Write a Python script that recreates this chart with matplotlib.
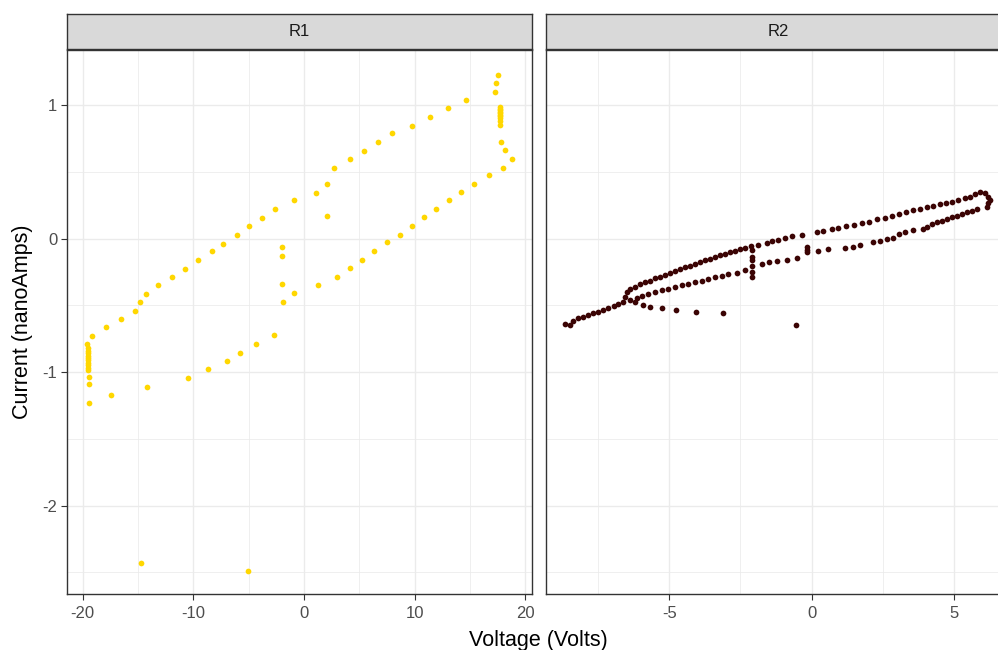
import matplotlib
matplotlib.use("Agg")
import matplotlib.pyplot as plt
import numpy as np

plt.rcParams['font.family'] = ['Liberation Sans', 'DejaVu Sans']
plt.rcParams['axes.unicode_minus'] = False

# ---------------- data ----------------
panels = ["R1", "R2"]

r1_volts = [
    -19.58, -19.49, -19.49, -19.49, -19.49, -19.49, -19.49, -19.49, -19.49, -19.49, -19.49, -19.40, -19.40,
    -19.19, -17.90, -16.51, -15.31, -14.82, -14.31, -13.23, -11.94, -10.73, -9.56, -8.35, -7.30,
    -6.06, -4.98, -3.80, -2.60, -0.91, 1.07, 2.07, 2.67, 4.17, 5.44, 6.64, 7.94, 9.72, 11.40,
    13.00, 14.59, 17.27, 17.36, 17.48,
    17.66, 17.66, 17.66, 17.66, 17.66, 17.66, 17.66, 17.66, 17.66, 17.66, 17.75, 18.15, 18.78, 17.97,
    16.71, 15.38, 14.20, 13.09, 11.91, 10.83, 9.72, 8.63, 7.46, 6.34, 5.26, 4.17, 2.94, 1.29,
    -0.91, -1.90, -1.99, -1.99, -1.99, 2.07,
    -2.69, -4.38, -5.79, -6.97, -8.65, -10.46, -14.22, -17.41,
    -14.73, -5.07, -19.40,
]
r1_amps = [
    -0.787, -0.822, -0.840, -0.858, -0.876, -0.894, -0.912, -0.930, -0.948, -0.966, -0.984, -1.037, -1.087,
    -0.729, -0.664, -0.605, -0.540, -0.475, -0.417, -0.350, -0.285, -0.227, -0.160, -0.095, -0.037,
    0.030, 0.095, 0.153, 0.220, 0.288, 0.345, 0.410, 0.532, 0.600, 0.657, 0.722, 0.790, 0.847, 0.912,
    0.980, 1.037, 1.102, 1.169, 1.227,
    0.985, 0.974, 0.963, 0.952, 0.941, 0.930, 0.918, 0.907, 0.885, 0.855, 0.722, 0.665, 0.600, 0.532,
    0.475, 0.410, 0.353, 0.288, 0.220, 0.162, 0.095, 0.030, -0.027, -0.095, -0.160, -0.217, -0.285, -0.350,
    -0.407, -0.475, -0.342, -0.127, -0.062, 0.170,
    -0.722, -0.787, -0.855, -0.920, -0.980, -1.044, -1.112, -1.170,
    -2.431, -2.489, -1.234,
]

r2_volts = [
    -8.66, -8.49, -8.37, -8.20, -8.02, -7.84, -7.67, -7.49, -7.32, -7.14, -6.96, -6.79, -6.61, -6.55,
    -6.49, -6.38, -6.20, -6.03, -5.85, -5.68, -5.50, -5.33, -5.15, -4.98, -4.80, -4.62, -4.45, -4.27,
    -4.10, -3.92, -3.74, -3.57, -3.39, -3.22, -3.04, -2.87, -2.69, -2.52, -2.34, -2.14, -1.87, -1.58,
    -1.40, -1.17, -0.93, -0.68, -0.35, 0.18, 0.41, 0.70, 0.94, 1.21, 1.49, 1.76, 2.03, 2.31, 2.58,
    2.81, 3.08, 3.32, 3.58, 3.81, 4.04, 4.28, 4.51, 4.72, 4.92, 5.16, 5.39, 5.57, 5.74, 5.91, 6.09,
    6.21, 6.27, 6.21, 6.15,
    5.80, 5.62, 5.45, 5.27, 5.10, 4.92, 4.75, 4.57, 4.39, 4.22, 4.04, 3.93, 3.58, 3.28, 3.08, 2.85,
    2.64, 2.40, 2.17, 1.70, 1.47, 1.17, 0.59, 0.24, -0.17, -0.17, -0.17, -0.52, -0.88, -1.20, -1.49,
    -1.75, -2.08, -2.08, -2.08, -2.08, -2.08, -2.08, -2.34, -2.63, -2.93, -3.16, -3.39, -3.63, -3.86,
    -4.10, -4.33, -4.56, -4.80, -5.03, -5.27, -5.50, -5.74, -5.97, -6.14, -6.20, -6.38,
    -5.91, -5.68, -5.27, -4.78, -4.07, -3.12, -0.56,
]
r2_amps = [
    -0.637, -0.647, -0.614, -0.597, -0.584, -0.572, -0.559, -0.547, -0.534, -0.522, -0.504, -0.490, -0.472, -0.434,
    -0.397, -0.380, -0.360, -0.342, -0.327, -0.315, -0.297, -0.285, -0.272, -0.255, -0.240, -0.227, -0.215, -0.202,
    -0.190, -0.175, -0.162, -0.150, -0.137, -0.125, -0.115, -0.102, -0.092, -0.080, -0.067, -0.057, -0.045, -0.030,
    -0.020, -0.007, 0.008, 0.020, 0.028, 0.048, 0.058, 0.073, 0.083, 0.093, 0.103, 0.115, 0.128, 0.145, 0.158,
    0.168, 0.185, 0.198, 0.213, 0.220, 0.235, 0.245, 0.258, 0.270, 0.278, 0.290, 0.303, 0.315, 0.333, 0.348, 0.340,
    0.315, 0.290, 0.265, 0.240,
    0.220, 0.208, 0.198, 0.185, 0.173, 0.160, 0.148, 0.135, 0.125, 0.110, 0.090, 0.073, 0.065, 0.053, 0.033, 0.005,
    -0.005, -0.015, -0.025, -0.047, -0.060, -0.072, -0.080, -0.090, -0.060, -0.085, -0.097, -0.147, -0.160, -0.167, -0.177,
    -0.190, -0.205, -0.160, -0.135, -0.085, -0.247, -0.285, -0.237, -0.255, -0.267, -0.280, -0.290, -0.302, -0.315,
    -0.327, -0.337, -0.350, -0.362, -0.375, -0.387, -0.402, -0.414, -0.427, -0.447, -0.472, -0.460,
    -0.497, -0.510, -0.522, -0.534, -0.549, -0.557, -0.647,
]

colors = {"R1": "#FFD700", "R2": "#3B0404"}

r1_xticks = [-20, -10, 0, 10, 20]
r2_xticks = [-5, 0, 5]
y_ticks = [1, 0, -1, -2]

# ---------------- layout (pixels) ----------------
W, H = 998, 650
fig = plt.figure(figsize=(W / 100, H / 100), dpi=100)

def px_axes(l, t, r, b):
    return fig.add_axes([l / W, 1 - b / H, (r - l) / W, (b - t) / H])

panel_boxes = [(67, 50, 532, 594), (545.5, 50, 1010.5, 594)]
strip_boxes = [(67, 14, 532, 49), (545.5, 14, 1010.5, 49)]
xlims = [(-21.42, 20.59), (-9.35, 6.99)]
ylim = (-2.663, 1.415)

grid_c = "#EBEBEB"
border_c = "#333333"
tick_label_c = "#4D4D4D"

datasets = [(r1_volts, r1_amps, r1_xticks, [-15, -5, 5, 15]),
            (r2_volts, r2_amps, r2_xticks, [-7.5, -2.5, 2.5])]

for i, name in enumerate(panels):
    ax = px_axes(*panel_boxes[i])
    xs, ys, xt, xminor = datasets[i]
    ax.set_xlim(*xlims[i])
    ax.set_ylim(*ylim)
    ax.set_facecolor("white")
    for v in xminor:
        ax.axvline(v, color=grid_c, lw=0.55, zorder=0)
    for v in [0.5, -0.5, -1.5, -2.5]:
        ax.axhline(v, color=grid_c, lw=0.55, zorder=0)
    for v in xt:
        ax.axvline(v, color=grid_c, lw=1.0, zorder=0)
    for v in y_ticks:
        ax.axhline(v, color=grid_c, lw=1.0, zorder=0)
    ax.scatter(xs, ys, s=17, color=colors[name], linewidths=0, zorder=3)
    ax.set_xticks(xt)
    ax.set_xticklabels([str(v) for v in xt])
    ax.set_yticks(y_ticks)
    if i == 0:
        ax.set_yticklabels([str(v) for v in y_ticks])
    else:
        ax.tick_params(axis='y', left=False, labelleft=False)
    ax.tick_params(axis='both', direction='out', length=4, width=0.8, color=border_c,
                   labelcolor=tick_label_c, labelsize=12, pad=3)
    ax.tick_params(axis='x', pad=5)
    for sp in ax.spines.values():
        sp.set_color(border_c)
        sp.set_linewidth(1.0)

    sax = px_axes(*strip_boxes[i])
    sax.set_facecolor("#D9D9D9")
    sax.set_xticks([])
    sax.set_yticks([])
    for sp in sax.spines.values():
        sp.set_color(border_c)
        sp.set_linewidth(1.0)
    sax.text(0.5, 0.5, name, transform=sax.transAxes, ha='center', va='center',
             fontsize=12, color="#1A1A1A")

fig.text(538.5 / W, 1 - 646 / H, "Voltage (Volts)", ha='center', va='baseline',
         fontsize=15.5, color="black")
fig.text(23 / W, 1 - 322 / H, "Current (nanoAmps)", ha='center', va='center',
         rotation=90, fontsize=15.5, color="black")

fig.savefig("out.png", dpi=100)
